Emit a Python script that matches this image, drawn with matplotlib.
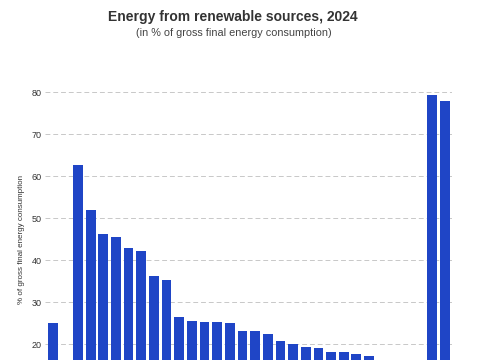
import matplotlib.pyplot as plt
import numpy as np

plt.rcParams['font.family'] = ['Liberation Sans', 'DejaVu Sans']

# slot positions: EU, gap, EU countries (ranked), gap, Iceland, Norway
positions = [0] + list(range(2, 29)) + [30, 31]
values = [25.2,
          62.8, 52.1, 46.4, 45.5, 43.0, 42.3, 36.3, 35.4, 26.5, 25.5,
          25.4, 25.4, 25.0, 23.3, 23.3, 22.5, 20.9, 20.2, 19.4, 19.2,
          18.3, 18.1, 17.8, 17.2, 15.6, 14.8, 11.7,
          79.3, 77.9]
y_ticks = [20, 30, 40, 50, 60, 70, 80]

BLUE = "#1f45c6"

fig = plt.figure(figsize=(4.85, 3.6), dpi=100)
# axes extends below the visible crop of the figure
ax = fig.add_axes([45 / 485, 0.0, (452 - 45) / 485, 276 / 360])
ax.bar(positions, values, width=0.78, color=BLUE)
ax.set_xlim(-0.6, 31.55)
ax.set_ylim(16.28, 82)
ax.set_yticks(y_ticks)
ax.set_xticks([])
ax.tick_params(axis="y", length=0, labelsize=6.5, labelcolor="#333333", pad=2.5)
ax.grid(axis="y", color="#c8c8c8", linestyle=(0, (5, 3)), linewidth=0.7)
ax.set_axisbelow(True)
for s in ax.spines.values():
    s.set_visible(False)

fig.text(22 / 485, 1 - 239 / 360, "% of gross final energy consumption", rotation=90,
         ha="center", va="center", fontsize=5.8, color="#333333")
fig.text(233 / 485, 1 - 16.5 / 360, "Energy from renewable sources, 2024",
         ha="center", va="center", fontsize=10, fontweight="bold", color="#333333")
fig.text(234 / 485, 1 - 33 / 360, "(in % of gross final energy consumption)",
         ha="center", va="center", fontsize=7.8, color="#444444")

fig.savefig("out.png", dpi=100)
